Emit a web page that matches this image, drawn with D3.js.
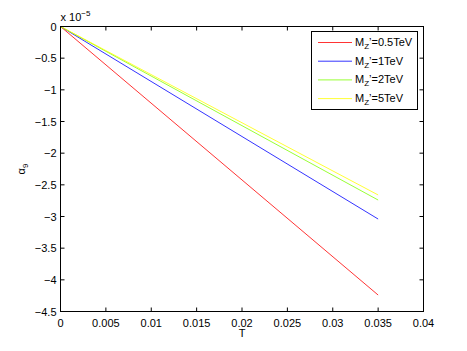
<html>
<head>
  <script src="https://d3js.org/d3.v7.min.js"></script>
  <style>
    body { margin: 0; background: #fff; }
    text { font-family: "Liberation Sans", Arial, sans-serif; font-size: 11px; fill: #000; }
  </style>
</head>
<body>
<svg id="chart" width="467" height="351"></svg>
<script>
  // T range of every curve (straight lines from the origin)
  var tValues = [0, 0.035];
  var masses = ['0.5', '1', '2', '5'];
  var endValues = [-4.24, -3.04, -2.74, -2.66];   // alpha_9 at T = 0.035, in units of 1e-5
  var colors = ['#ff0000', '#0000ff', '#7fff00', '#ffff00'];
  var xTicks = [0, 0.005, 0.01, 0.015, 0.02, 0.025, 0.03, 0.035, 0.04];
  var yTicks = [0, -0.5, -1, -1.5, -2, -2.5, -3, -3.5, -4, -4.5];

  var svg = d3.select('#chart');
  var pLeft = 60.5, pRight = 423.5, pTop = 26.5, pBottom = 311.5;

  var x = d3.scaleLinear().domain([0, 0.04]).range([pLeft, pRight]);
  var y = d3.scaleLinear().domain([-4.5, 0]).range([pBottom, pTop]);

  function fmt(v) { return v < 0 ? '\u2212' + Math.abs(v) : String(v); }

  // curves
  var line = d3.line().x(function(d) { return x(d[0]); }).y(function(d) { return y(d[1]); });
  endValues.forEach(function(v, i) {
    svg.append('path')
      .attr('d', line(tValues.map(function(t) { return [t, v * t / 0.035]; })))
      .attr('fill', 'none')
      .attr('stroke', colors[i])
      .attr('stroke-width', 0.8);
  });

  // box and ticks
  svg.append('rect')
    .attr('x', pLeft).attr('y', pTop)
    .attr('width', pRight - pLeft).attr('height', pBottom - pTop)
    .attr('fill', 'none').attr('stroke', '#000').attr('stroke-width', 1);

  var g = svg.append('g');
  xTicks.forEach(function(t) {
    g.append('line').attr('x1', x(t)).attr('x2', x(t)).attr('y1', pBottom).attr('y2', pBottom - 4).attr('stroke', '#000');
    g.append('line').attr('x1', x(t)).attr('x2', x(t)).attr('y1', pTop).attr('y2', pTop + 4).attr('stroke', '#000');
    g.append('text').attr('x', x(t)).attr('y', pBottom + 15).attr('text-anchor', 'middle').text(fmt(t));
  });
  yTicks.forEach(function(t) {
    g.append('line').attr('x1', pLeft).attr('x2', pLeft + 4).attr('y1', y(t)).attr('y2', y(t)).attr('stroke', '#000');
    g.append('line').attr('x1', pRight).attr('x2', pRight - 4).attr('y1', y(t)).attr('y2', y(t)).attr('stroke', '#000');
    g.append('text').attr('x', pLeft - 4).attr('y', y(t) + 4).attr('text-anchor', 'end').text(fmt(t));
  });

  // exponent
  var ex = svg.append('text').attr('x', pLeft).attr('y', 21);
  ex.append('tspan').text('x 10');
  ex.append('tspan').attr('dy', -5).style('font-size', '8px').text('\u22125');

  // axis labels
  svg.append('text').attr('x', x(0.02)).attr('y', 337).attr('text-anchor', 'middle').text('T');
  var yl = svg.append('text').attr('transform', 'translate(25,169) rotate(-90)').attr('text-anchor', 'middle');
  yl.append('tspan').text('\u03b1');
  yl.append('tspan').attr('dy', 3).style('font-size', '8px').text('9');

  // legend
  var lg = svg.append('g');
  lg.append('rect').attr('x', 311.5).attr('y', 31.5).attr('width', 106).attr('height', 78)
    .attr('fill', '#fff').attr('stroke', '#000').attr('stroke-width', 1);
  masses.forEach(function(m, i) {
    var ly = 42.5 + i * 18.7;
    lg.append('line').attr('x1', 318).attr('x2', 352).attr('y1', ly).attr('y2', ly)
      .attr('stroke', colors[i]).attr('stroke-width', 0.8);
    var t = lg.append('text').attr('x', 355).attr('y', ly + 3.5);
    t.append('tspan').text('M');
    t.append('tspan').attr('dy', 3).style('font-size', '8px').text('Z');
    t.append('tspan').attr('dy', -3).text('\u2019=' + m + 'TeV');
  });
</script>
</body>
</html>
